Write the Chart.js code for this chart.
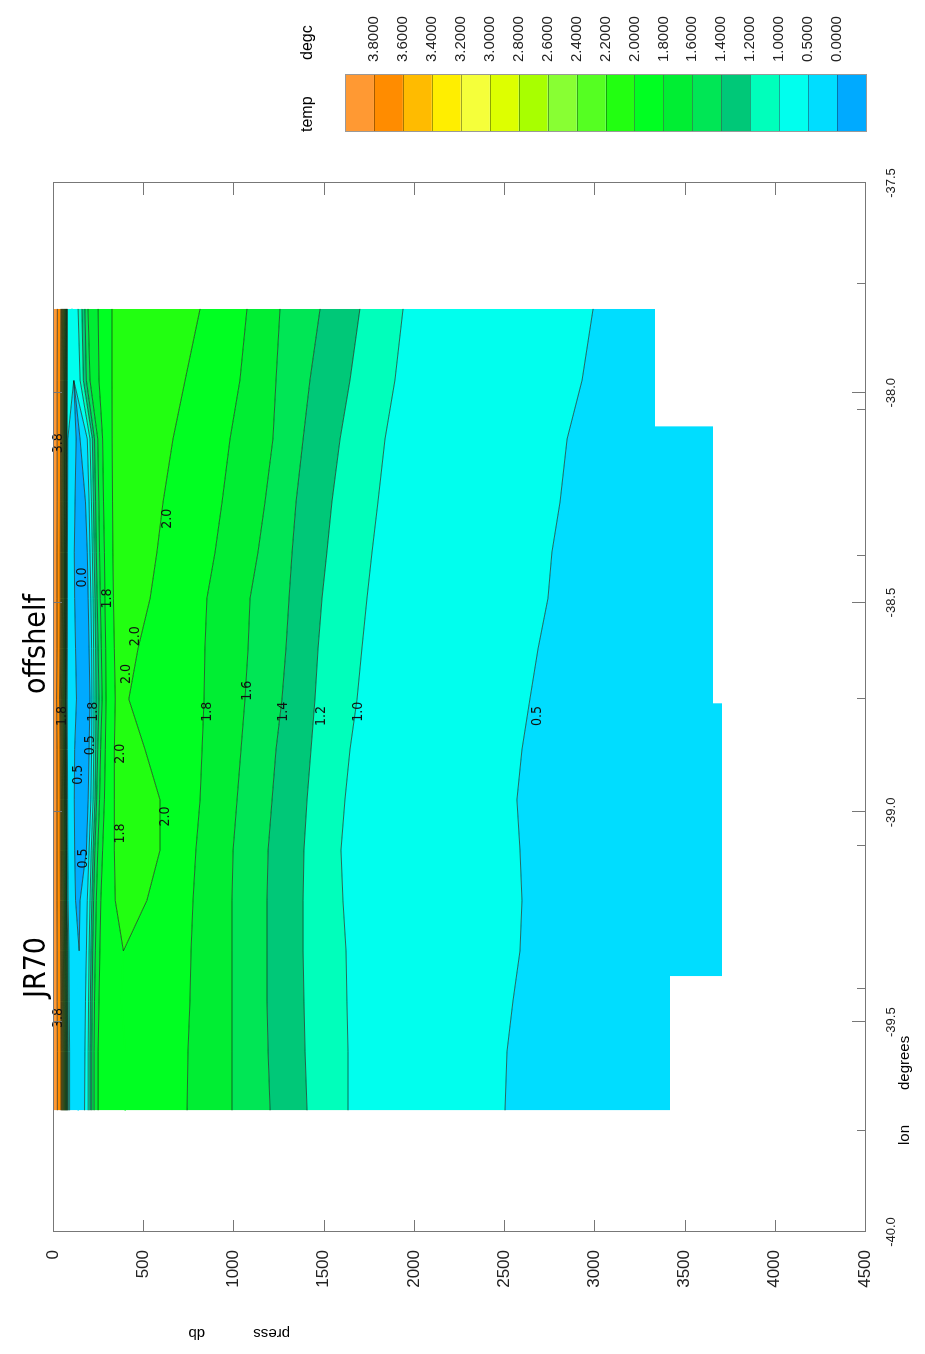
<!DOCTYPE html>
<html>
<head>
<meta charset="utf-8">
<script src="https://cdn.jsdelivr.net/npm/chart.js@4.4.1/dist/chart.umd.min.js"></script>
<style>
  html, body { margin: 0; padding: 0; background: #fff; overflow: hidden; width: 925px; height: 1354px; }
  /* the section is drawn landscape and turned a quarter turn, like the printed plot */
  #wrap { position: absolute; left: 0; top: 0; width: 1354px; height: 925px;
          transform-origin: 0 0; transform: translateY(1354px) rotate(-90deg); }
</style>
</head>
<body>
<div id="wrap"><canvas id="section" width="1354" height="925"></canvas></div>
<script>
// sample columns, west -> east (lon degrees)
const lon = [-39.71, -39.57, -39.45, -39.33, -39.21, -39.09, -38.97, -38.85, -38.73, -38.61, -38.49, -38.38, -38.26, -38.11, -37.97, -37.80];

// contour levels (degc) and fill colours, first box = warmer than 3.8, last = colder than 0.0
const levels = [3.8, 3.6, 3.4, 3.2, 3.0, 2.8, 2.6, 2.4, 2.2, 2.0, 1.8, 1.6, 1.4, 1.2, 1.0, 0.5, 0.0];
const levelColors = ["#ff9933", "#ff8c00", "#ffbb00", "#ffee00", "#f5ff3a", "#ddff00", "#a8ff00", "#88ff33",
                     "#55ff22", "#22ff11", "#00ff22", "#00ee33", "#00e655", "#00c878", "#00ffbb", "#00ffee",
                     "#00ddff", "#00aaff"];

// isotherm depths (db) for each column, from the surface downwards
const iso38  = [24, 24, 23, 23, 22, 22, 22, 22, 20, 22, 22, 22, 23, 23, 23, 24];
const iso36  = [44, 44, 43, 42, 41, 40, 40, 39, 36, 39, 40, 40, 41, 42, 42, 43];
const iso34  = [48, 48, 47, 46, 45, 44, 44, 43, 41, 43, 44, 44, 45, 46, 46, 47];
const iso32  = [51, 51, 50, 49, 48, 47, 47, 46, 44, 46, 47, 47, 48, 49, 49, 50];
const iso30  = [54, 54, 53, 52, 51, 50, 50, 49, 47, 49, 50, 50, 51, 52, 52, 53];
const iso28  = [57, 57, 56, 55, 54, 53, 53, 52, 50, 52, 53, 53, 54, 55, 55, 56];
const iso26  = [60, 60, 59, 58, 57, 56, 56, 55, 53, 55, 56, 56, 57, 58, 58, 59];
const iso24  = [63, 63, 62, 61, 60, 59, 59, 58, 56, 58, 59, 59, 60, 61, 61, 62];
const iso22  = [66, 66, 65, 64, 63, 62, 62, 61, 59, 61, 62, 62, 63, 64, 64, 65];
const iso20  = [69, 69, 68, 67, 66, 65, 64, 63, 62, 63, 64, 64, 65, 66, 66, 67];
const iso18  = [72, 72, 71, 70, 69, 68, 67, 66, 65, 66, 67, 67, 68, 69, 69, 70];
const iso16  = [75, 75, 74, 73, 72, 71, 70, 69, 68, 69, 70, 70, 71, 72, 72, 73];
const iso14  = [78, 78, 77, 76, 74, 73, 72, 71, 70, 71, 72, 72, 73, 74, 74, 75];
const iso12  = [81, 81, 80, 79, 76, 75, 74, 73, 72, 73, 74, 74, 75, 76, 77, 77];
const iso10  = [85, 85, 84, 82, 78, 77, 76, 75, 74, 75, 76, 76, 77, 78, 79, 80];
// winter water: cold layer, the 0.0 and 0.5 pairs meet where the core is absent
const iso05a = [92, 92, 90, 88, 84, 82, 81, 80, 79, 80, 80, 80, 81, 82, 115, 105];
const iso00a = [140, 140, 140, 145, 125, 120, 118, 120, 130, 125, 120, 118, 122, 128, 115, 105];
const iso00b = [140, 140, 140, 145, 150, 185, 195, 200, 205, 200, 195, 190, 180, 150, 115, 105];
const iso05b = [175, 177, 180, 185, 190, 200, 210, 214, 216, 214, 210, 205, 200, 190, 115, 105];
const iso10b = [195, 195, 197, 200, 205, 212, 222, 226, 227, 225, 222, 218, 213, 205, 150, 139];
const iso12b = [205, 205, 207, 210, 215, 222, 232, 236, 238, 236, 232, 228, 224, 218, 168, 160];
const iso14b = [215, 215, 217, 220, 225, 232, 242, 248, 255, 250, 245, 240, 236, 230, 185, 177];
const iso16b = [228, 228, 230, 235, 240, 248, 258, 264, 272, 268, 262, 258, 254, 248, 205, 194];
const iso18b = [250, 250, 255, 260, 265, 275, 285, 290, 294, 292, 288, 285, 280, 275, 255, 250];
// warm core above 2.0
const iso20a = [400, 400, 380, 390, 345, 340, 340, 340, 345, 340, 335, 332, 330, 328, 327, 327];
const iso20b = [400, 400, 380, 390, 520, 593, 593, 510, 420, 471, 538, 576, 610, 665, 732, 815];
// deep water
const iso18c = [743, 748, 759, 765, 776, 792, 815, 826, 837, 842, 853, 898, 937, 981, 1036, 1075];
const iso16c = [992, 992, 992, 992, 992, 998, 1020, 1042, 1064, 1081, 1092, 1136, 1175, 1219, 1236, 1258];
const iso14c = [1203, 1192, 1186, 1186, 1186, 1192, 1214, 1236, 1269, 1291, 1308, 1325, 1347, 1386, 1424, 1480];
const iso12c = [1408, 1397, 1391, 1386, 1386, 1391, 1408, 1430, 1452, 1469, 1491, 1518, 1546, 1591, 1646, 1701];
const iso10c = [1635, 1635, 1629, 1624, 1607, 1596, 1618, 1646, 1685, 1712, 1740, 1768, 1801, 1840, 1895, 1940];
const iso05c = [2505, 2516, 2549, 2588, 2599, 2588, 2571, 2599, 2643, 2688, 2743, 2765, 2810, 2849, 2932, 2993];

// deepest sample of each group of casts (sea floor mask)
const bottomLon   = [-39.71, -39.39, -38.74, -38.08, -37.80];
const bottomPress = [3419, 3707, 3658, 3336, 3336];

// axes
const pressTicks = [0, 500, 1000, 1500, 2000, 2500, 3000, 3500, 4000, 4500];
const lonTicks = [-40.0, -39.5, -39.0, -38.5, -38.0, -37.5];
const castLon = [-39.76, -39.42, -39.08, -38.73, -38.39, -38.04, -37.74];

// contour labels
const labelText  = ["3.8", "3.8", "0.0", "1.8", "2.0", "2.0", "2.0", "1.8", "1.6", "1.4", "1.2", "1.0", "0.5", "0.5", "0.5", "2.0", "2.0", "1.8", "0.5", "1.8", "1.8"];
const labelLon   = [-38.12, -39.49, -38.44, -38.49, -38.30, -38.58, -38.67, -38.76, -38.71, -38.76, -38.77, -38.76, -38.77, -38.84, -38.91, -38.86, -39.01, -39.05, -39.11, -38.76, -38.77];
const labelPress = [28, 28, 160, 299, 632, 454, 405, 853, 1075, 1275, 1485, 1690, 2682, 205, 139, 371, 621, 371, 166, 222, 50];

const isotherms = [
    {v: 3.8, d: iso38}, {v: 3.6, d: iso36}, {v: 3.4, d: iso34}, {v: 3.2, d: iso32}, {v: 3.0, d: iso30},
    {v: 2.8, d: iso28}, {v: 2.6, d: iso26}, {v: 2.4, d: iso24}, {v: 2.2, d: iso22}, {v: 2.0, d: iso20},
    {v: 1.8, d: iso18}, {v: 1.6, d: iso16}, {v: 1.4, d: iso14}, {v: 1.2, d: iso12}, {v: 1.0, d: iso10},
    {v: 0.5, d: iso05a}, {v: 0.0, d: iso00a}, {v: 0.0, d: iso00b}, {v: 0.5, d: iso05b}, {v: 1.0, d: iso10b},
    {v: 1.2, d: iso12b}, {v: 1.4, d: iso14b}, {v: 1.6, d: iso16b}, {v: 1.8, d: iso18b},
    {v: 2.0, d: iso20a}, {v: 2.0, d: iso20b},
    {v: 1.8, d: iso18c}, {v: 1.6, d: iso16c}, {v: 1.4, d: iso14c}, {v: 1.2, d: iso12c}, {v: 1.0, d: iso10c},
    {v: 0.5, d: iso05c}
];

const SANS = '"Liberation Sans", Arial, sans-serif';
const NARROW = '"Liberation Sans Narrow", "DejaVu Sans Condensed", "Liberation Sans", sans-serif';
const lineColor = "rgba(15,25,15,0.8)";
const clear = "rgba(0,0,0,0)";

// colour of the band lying between isotherm k-1 and isotherm k
function bandOf(k) {
    const v = isotherms[k].v;
    const prev = k === 0 ? Infinity : isotherms[k - 1].v;
    if (prev === v) return v === 0 ? levels.length : levels.indexOf(v);
    return levels.indexOf(Math.min(prev, v));
}

// an isotherm pair that has closed up draws no contour, only the colour around it
function collapsed(k, i) {
    const y = isotherms[k].d[i];
    const up = k > 0 ? isotherms[k - 1].d[i] : null;
    const dn = k < isotherms.length - 1 ? isotherms[k + 1].d[i] : null;
    return y === up || y === dn;
}
function surroundColor(k, i) {
    while (k > 0 && isotherms[k - 1].d[i] === isotherms[k].d[i]) k--;
    return levelColors[bandOf(k)];
}

// filled bands first (no outline), then the contour lines on top
const bands = isotherms.map((iso, k) => ({
    label: "band " + k,
    data: lon.map((x, i) => ({x: x, y: iso.d[i]})),
    borderColor: clear,
    borderWidth: 0,
    pointRadius: 0,
    tension: 0,
    backgroundColor: levelColors[bandOf(k)],
    fill: k === 0 ? {value: 0} : "-1"
}));
bands.push({
    label: "bottom",
    data: bottomLon.map((x, i) => ({x: x, y: bottomPress[i]})),
    stepped: "before",
    borderColor: clear,
    borderWidth: 0,
    pointRadius: 0,
    backgroundColor: levelColors[16],
    fill: "-1"
});
const contours = isotherms.map((iso, k) => ({
    label: iso.v.toFixed(1),
    data: lon.map((x, i) => ({x: x, y: iso.d[i]})),
    borderColor: lineColor,
    borderWidth: 0.8,
    pointRadius: 0,
    tension: 0,
    fill: false,
    segment: {
        borderColor: c => (collapsed(k, c.p0DataIndex) && collapsed(k, c.p1DataIndex)) ? surroundColor(k, c.p0DataIndex) : lineColor,
        borderWidth: c => (collapsed(k, c.p0DataIndex) && collapsed(k, c.p1DataIndex)) ? 1.6 : 0.8
    }
}));

function seg(ctx, x1, y1, x2, y2) {
    ctx.beginPath();
    ctx.moveTo(x1, y1);
    ctx.lineTo(x2, y2);
    ctx.stroke();
}

const decorations = {
    id: "decorations",
    afterDraw(chart) {
        const ctx = chart.ctx;
        const a = chart.chartArea;
        const xs = chart.scales.x, ys = chart.scales.y;
        ctx.save();

        // contour labels
        ctx.fillStyle = "#111";
        ctx.font = "14px " + NARROW;
        ctx.textAlign = "center";
        ctx.textBaseline = "middle";
        labelText.forEach((t, i) => {
            ctx.fillText(t, xs.getPixelForValue(labelLon[i]), ys.getPixelForValue(labelPress[i]));
        });

        // frame and inward ticks
        ctx.strokeStyle = "#777";
        ctx.lineWidth = 1;
        ctx.strokeRect(a.left + 0.5, a.top + 0.5, a.right - a.left, a.bottom - a.top);
        pressTicks.forEach(p => {
            const y = Math.round(ys.getPixelForValue(p)) + 0.5;
            seg(ctx, a.left, y, a.left + 12, y);
            seg(ctx, a.right, y, a.right - 12, y);
        });
        lonTicks.forEach(l => {
            const x = Math.round(xs.getPixelForValue(l)) + 0.5;
            seg(ctx, x, a.bottom, x, a.bottom - 13);
            seg(ctx, x, a.top, x, a.top + 9);
        });
        castLon.forEach(l => {
            const x = Math.round(xs.getPixelForValue(l)) + 0.5;
            seg(ctx, x, a.bottom, x, a.bottom - 8);
        });

        // titles
        ctx.fillStyle = "#000";
        ctx.textAlign = "left";
        ctx.textBaseline = "alphabetic";
        ctx.font = "30px " + NARROW;
        ctx.fillText("JR70", 356, 45);
        ctx.fillText("offshelf", 660, 45);

        ctx.font = "15px " + SANS;
        ctx.fillText("lon", 209, 909);
        ctx.fillText("degrees", 264, 909);
        ctx.save();
        ctx.translate(25, 290);
        ctx.rotate(-Math.PI / 2);
        ctx.fillText("press", 0, 0);
        ctx.fillText("db", 85, 0);
        ctx.restore();

        // colour bar
        const bx = 1222, bw = 57, by = 345, bh = 521;
        const cell = bh / levelColors.length;
        levelColors.forEach((c, i) => {
            ctx.fillStyle = c;
            ctx.fillRect(bx, by + i * cell, bw, cell);
        });
        ctx.strokeStyle = "rgba(0,0,0,0.35)";
        for (let i = 1; i < levelColors.length; i++) {
            const y = Math.round(by + i * cell) + 0.5;
            seg(ctx, bx, y, bx + bw, y);
        }
        ctx.strokeStyle = "#999";
        ctx.strokeRect(bx + 0.5, by + 0.5, bw, bh);
        ctx.fillStyle = "#222";
        ctx.font = "15px " + SANS;
        ctx.textBaseline = "middle";
        levels.forEach((v, i) => {
            ctx.fillText(v.toFixed(4), 1292, by + (i + 1) * cell);
        });
        ctx.fillStyle = "#000";
        ctx.textBaseline = "alphabetic";
        ctx.font = "16px " + SANS;
        ctx.fillText("temp", 1222, 312);
        ctx.fillText("degc", 1294, 312);

        ctx.restore();
    }
};

new Chart(document.getElementById("section"), {
    type: "line",
    data: {datasets: bands.concat(contours)},
    options: {
        responsive: false,
        animation: false,
        events: [],
        layout: {padding: {left: 0, right: 183, top: 53, bottom: 0}},
        plugins: {
            legend: {display: false},
            tooltip: {enabled: false},
            filler: {drawTime: "beforeDatasetsDraw", propagate: false}
        },
        scales: {
            x: {
                type: "linear",
                min: -40,
                max: -37.5,
                grid: {display: false},
                border: {display: false},
                ticks: {
                    stepSize: 0.5,
                    padding: 11,
                    color: "#222",
                    font: {family: SANS, size: 13},
                    maxRotation: 0,
                    callback: v => v.toFixed(1)
                },
                afterFit: s => { s.height = 60; }
            },
            y: {
                type: "linear",
                min: 0,
                max: 4500,
                reverse: true,
                grid: {display: false},
                border: {display: false},
                ticks: {
                    stepSize: 500,
                    padding: 10,
                    color: "#222",
                    font: {family: SANS, size: 17},
                    callback: v => String(v)
                },
                afterFit: s => { s.width = 122; }
            }
        }
    },
    plugins: [decorations]
});
</script>
</body>
</html>
